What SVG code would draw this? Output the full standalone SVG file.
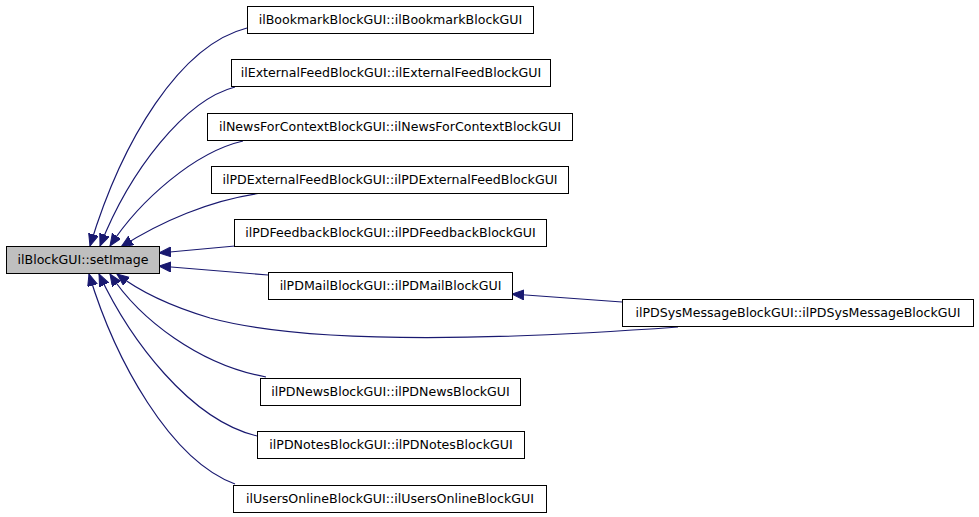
<svg xmlns="http://www.w3.org/2000/svg" width="979" height="517" viewBox="0 0 979 517">
<defs>
<style>
.n rect{fill:#ffffff;stroke:#000000;stroke-width:1}
.n text{font-family:"DejaVu Sans",sans-serif;font-size:12.6px;fill:#000000;text-anchor:middle}
#setImage rect{fill:#bfbfbf}
.e path{fill:none;stroke:#191970;stroke-width:1.2;marker-end:url(#ah)}
</style>
<marker id="ah" markerUnits="userSpaceOnUse" markerWidth="14" markerHeight="12" refX="12" refY="5" orient="auto" viewBox="0 0 14 12">
<path d="M0,0 L12,5 L0,10 Z" fill="#191970" stroke="#191970"/>
</marker>
</defs>
<rect width="979" height="517" fill="#ffffff"/>
<g id="edges" class="e">
<path d="M247,28 C180,45 122,140 90,246"/>
<path d="M235,87 C185,100 130,170 100,246"/>
<path d="M243,141 C195,152 140,200 110,246"/>
<path d="M262,193 C210,200 160,222 121,247"/>
<path d="M235,246 L159,253"/>
<path d="M268,275 L159,266"/>
<path d="M678,327 C500,340 310,345 210,318 C170,306 140,292 117,274"/>
<path d="M622,302 L512,294"/>
<path d="M266,377 C200,365 140,320 110,274"/>
<path d="M257,436 C190,420 130,340 99,274"/>
<path d="M235,484 C170,460 115,360 89,274"/>
</g>
<g id="setImage" class="n"><rect x="6.5" y="246.5" width="153" height="27"/><text x="83" y="264">ilBlockGUI::setImage</text></g>
<g id="bookmark" class="n"><rect x="247.5" y="6.5" width="286" height="27"/><text x="390.5" y="24">ilBookmarkBlockGUI::ilBookmarkBlockGUI</text></g>
<g id="externalfeed" class="n"><rect x="231.5" y="59.5" width="319" height="27"/><text x="391" y="77">ilExternalFeedBlockGUI::ilExternalFeedBlockGUI</text></g>
<g id="newsforcontext" class="n"><rect x="207.5" y="113.5" width="365" height="27"/><text x="390" y="131">ilNewsForContextBlockGUI::ilNewsForContextBlockGUI</text></g>
<g id="pdexternalfeed" class="n"><rect x="211.5" y="166.5" width="357" height="27"/><text x="390" y="184">ilPDExternalFeedBlockGUI::ilPDExternalFeedBlockGUI</text></g>
<g id="pdfeedback" class="n"><rect x="234.5" y="219.5" width="312" height="27"/><text x="390.5" y="237">ilPDFeedbackBlockGUI::ilPDFeedbackBlockGUI</text></g>
<g id="pdmail" class="n"><rect x="268.5" y="272.5" width="244" height="27"/><text x="390.5" y="290">ilPDMailBlockGUI::ilPDMailBlockGUI</text></g>
<g id="pdsysmessage" class="n"><rect x="622.5" y="299.5" width="351" height="27"/><text x="798" y="317">ilPDSysMessageBlockGUI::ilPDSysMessageBlockGUI</text></g>
<g id="pdnews" class="n"><rect x="260.5" y="378.5" width="260" height="27"/><text x="390.5" y="396">ilPDNewsBlockGUI::ilPDNewsBlockGUI</text></g>
<g id="pdnotes" class="n"><rect x="257.5" y="431.5" width="267" height="27"/><text x="391" y="449">ilPDNotesBlockGUI::ilPDNotesBlockGUI</text></g>
<g id="usersonline" class="n"><rect x="233.5" y="485.5" width="313" height="27"/><text x="390" y="503">ilUsersOnlineBlockGUI::ilUsersOnlineBlockGUI</text></g>
</svg>
